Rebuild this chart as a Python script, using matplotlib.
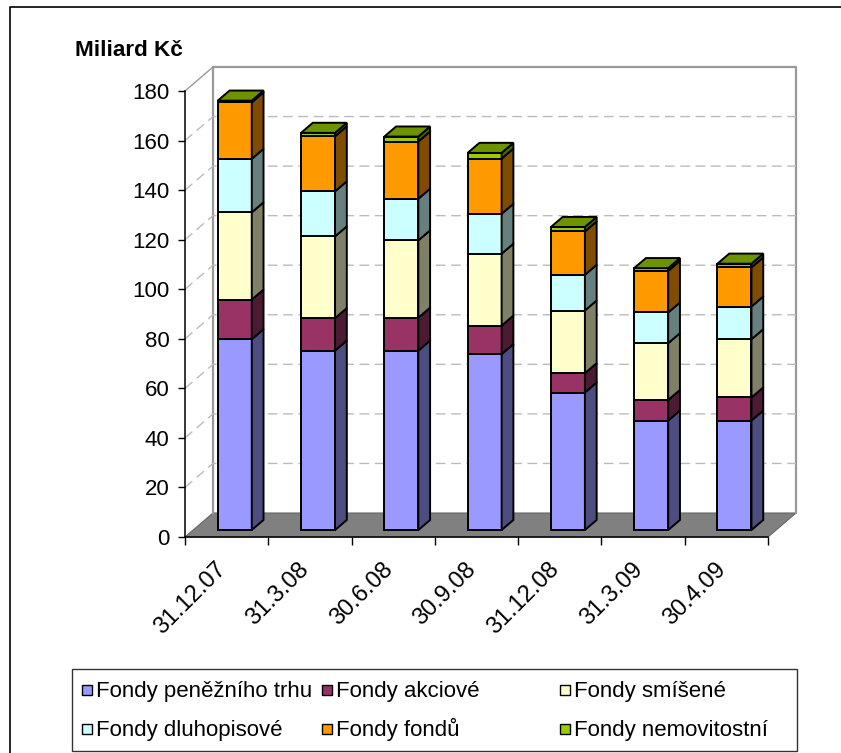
import matplotlib
matplotlib.use("Agg")
import matplotlib.pyplot as plt
from matplotlib.patches import Polygon, Rectangle
from matplotlib.lines import Line2D
from matplotlib.transforms import ScaledTranslation
import matplotlib.colors as mcolors

plt.rcParams['font.family'] = ['Liberation Sans', 'DejaVu Sans']

# ---- data (miliard Kč) ----
dates = ["31.12.07", "31.3.08", "30.6.08", "30.9.08", "31.12.08", "31.3.09", "30.4.09"]
penezni_trh = [77.0, 72.4, 72.4, 71.0, 55.5, 44.2, 44.2]
akciove = [16.0, 13.1, 13.3, 11.5, 7.8, 8.3, 9.3]
smisene = [35.2, 33.0, 31.2, 29.0, 25.3, 22.9, 23.5]
dluhopisove = [21.6, 18.2, 16.8, 16.1, 14.4, 12.4, 13.2]
fondy_fondu = [22.8, 22.2, 23.1, 22.3, 17.5, 16.8, 15.8]
nemovitostni = [0.7, 1.4, 2.0, 2.3, 1.8, 1.1, 1.5]

series_names = ["Fondy peněžního trhu", "Fondy akciové", "Fondy smíšené",
                "Fondy dluhopisové", "Fondy fondů", "Fondy nemovitostní"]
series_values = [penezni_trh, akciove, smisene, dluhopisove, fondy_fondu, nemovitostni]
series_colors = ["#9999FF", "#993366", "#FFFFCC", "#CCFFFF", "#FF9900", "#99CC00"]
y_ticks = list(range(0, 181, 20))

# ---- figure / axes geometry ----
W, H = 841, 753
DPI = 100
fig = plt.figure(figsize=(W / DPI, H / DPI), dpi=DPI)
fig.patch.set_facecolor("white")

ax_left, ax_right, ax_bottom, ax_top = 185, 768, 537, 91
ax = fig.add_axes([ax_left / W, (H - ax_bottom) / H,
                   (ax_right - ax_left) / W, (ax_bottom - ax_top) / H])
ncat = len(dates)
ymax = 180
ax.set_xlim(0, ncat)
ax.set_ylim(0, ymax)
ax.patch.set_alpha(0)

# depth of the 3-D box, in pixels, converted to data units
px_per_x = (ax_right - ax_left) / ncat
px_per_y = (ax_bottom - ax_top) / ymax
DEPTH_PX = (28, 24)
ddx = DEPTH_PX[0] / px_per_x
ddy = DEPTH_PX[1] / px_per_y

wall_col = "#999999"
grid_col = "#BBBBBB"

# floor
ax.add_patch(Polygon([(0, 0), (ncat, 0), (ncat + ddx, ddy), (ddx, ddy)],
                     closed=True, facecolor="#808080", edgecolor="#666666",
                     lw=0.8, clip_on=False, zorder=1))
# back wall outline
ax.add_line(Line2D([ddx, ddx, ncat + ddx, ncat + ddx],
                   [ddy, ymax + ddy, ymax + ddy, ddy],
                   color=wall_col, lw=1.6, clip_on=False, zorder=1))
# side wall top edge
ax.add_line(Line2D([0, ddx], [ymax, ymax + ddy], color=wall_col, lw=1.0,
                   clip_on=False, zorder=1))
# dashed gridlines on back and side walls
for v in y_ticks[1:-1]:
    ax.add_line(Line2D([0, ddx, ncat + ddx], [v, v + ddy, v + ddy],
                       color=grid_col, lw=1.0, dashes=(7, 4),
                       clip_on=False, zorder=1))

# ---- 3-D stacked bars ----
f0, f1 = 0.29, 0.71      # front / back depth fraction of the bars
bar_w = 34 / px_per_x
sdx = (f1 - f0) * ddx
sdy = (f1 - f0) * ddy


def shade(c, k):
    r, g, b = mcolors.to_rgb(c)
    return (r * k, g * k, b * k)


EDGE_LW = 1.4
for i in range(ncat):
    xc = i + 0.5 + f0 * ddx
    xl, xr = xc - bar_w / 2, xc + bar_w / 2
    base = f0 * ddy
    cum = 0.0
    for s, (vals, col) in enumerate(zip(series_values, series_colors)):
        yb = base + cum
        cum += vals[i]
        yt = base + cum
        ax.add_patch(Polygon([(xl, yb), (xr, yb), (xr, yt), (xl, yt)],
                             closed=True, facecolor=col, edgecolor="black",
                             lw=EDGE_LW, clip_on=False, zorder=3, joinstyle="miter"))
        ax.add_patch(Polygon([(xr, yb), (xr + sdx, yb + sdy),
                              (xr + sdx, yt + sdy), (xr, yt)],
                             closed=True, facecolor=shade(col, 0.5),
                             edgecolor="black", lw=EDGE_LW, clip_on=False,
                             zorder=3, joinstyle="miter"))
        if s == len(series_values) - 1:
            ax.add_patch(Polygon([(xl, yt), (xr, yt), (xr + sdx, yt + sdy),
                                  (xl + sdx, yt + sdy)],
                                 closed=True, facecolor=shade(col, 0.72),
                                 edgecolor="black", lw=EDGE_LW, clip_on=False,
                                 zorder=3, joinstyle="miter"))

# ---- axes, ticks, labels ----
for side in ("top", "right"):
    ax.spines[side].set_visible(False)
for side in ("left", "bottom"):
    ax.spines[side].set_color("black")
    ax.spines[side].set_linewidth(1.1)
    ax.spines[side].set_zorder(2)

ax.set_yticks(y_ticks)
ax.set_yticklabels([str(v) for v in y_ticks])
ax.tick_params(axis="y", direction="out", length=5, width=1, pad=6,
               labelsize=16, colors="black")
ax.set_xticks(range(ncat + 1))
ax.set_xticklabels([])
ax.tick_params(axis="x", direction="out", length=6, width=1, colors="black")

lab_off = ScaledTranslation(-4 / DPI, -29 / DPI, fig.dpi_scale_trans)
for i, d in enumerate(dates):
    ax.text(i + 0.5, 0, d, transform=ax.transData + lab_off, rotation=45,
            rotation_mode="anchor", ha="right", va="center", fontsize=17,
            color="black")

fig.text(75 / W, 1 - 50 / H, "Miliard Kč", fontsize=16.2, fontweight="bold",
         ha="left", va="center")

# ---- chart border ----
fig.add_artist(Line2D([10 / W, 10 / W, 1.0], [0.0, 1 - 7 / H, 1 - 7 / H],
                      transform=fig.transFigure, color="black", lw=1.2))

# ---- legend ----
lx0, ly0, lx1, ly1 = 72, 669, 797, 751
fig.add_artist(Rectangle((lx0 / W, 1 - ly1 / H), (lx1 - lx0) / W, (ly1 - ly0) / H,
                         transform=fig.transFigure, facecolor="white",
                         edgecolor="#333333", lw=1.0))
col_x = [82, 322, 560]
row_y = [690, 729]
msize = 10
for k, (name, col) in enumerate(zip(series_names, series_colors)):
    r, c = divmod(k, 3)
    mx, my = col_x[c], row_y[r]
    fig.add_artist(Rectangle((mx / W, 1 - (my + msize / 2) / H), msize / W, msize / H,
                             transform=fig.transFigure, facecolor=col,
                             edgecolor="black", lw=1.0))
    fig.text((mx + msize + 4) / W, 1 - (my + 7) / H, name, fontsize=16,
             ha="left", va="baseline")

fig.savefig("out.png", dpi=DPI)
